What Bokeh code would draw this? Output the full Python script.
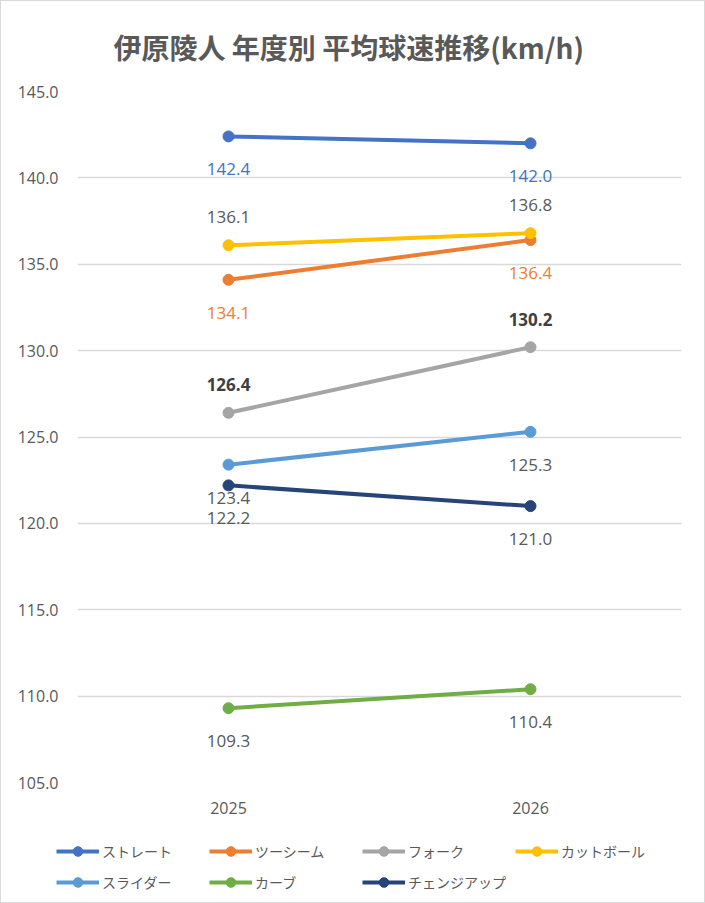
from bokeh.plotting import figure
from bokeh.layouts import column, row
from bokeh.models import (ColumnDataSource, Legend, LegendItem, FixedTicker,
                          NumeralTickFormatter, FactorRange, Range1d)
from bokeh.core.properties import value
from bokeh.embed import file_html
from bokeh.resources import INLINE

# ---- data ----
years = ["2025", "2026"]
pitch_names = ["ストレート", "ツーシーム", "フォーク", "カットボール", "スライダー", "カーブ", "チェンジアップ"]
straight = [142.4, 142.0]
two_seam = [134.1, 136.4]
fork = [126.4, 130.2]
cutball = [136.1, 136.8]
slider = [123.4, 125.3]
curve = [109.3, 110.4]
changeup = [122.2, 121.0]
y_ticks = [105, 110, 115, 120, 125, 130, 135, 140, 145]
title_text = "伊原陵人 年度別 平均球速推移(km/h)"

series_values = [straight, two_seam, fork, cutball, slider, curve, changeup]

# ---- styles ----
colors = ["#4472C4", "#ED7D31", "#A5A5A5", "#FFC000", "#5B9BD5", "#70AD47", "#264478"]
label_colors = ["#4472C4", "#ED7D31", "#404040", "#595959", "#595959", "#595959", "#595959"]
label_styles = ["normal", "normal", "bold", "normal", "normal", "normal", "normal"]
label_side = ["below", "below", "above", "above", "below", "below", "below"]
SIDE_OFFSET = {"below": 33, "above": -28}

W = 703
H_MAIN, H_LEG = 835, 66
p = figure(width=W, height=H_MAIN, x_range=FactorRange(factors=years, range_padding=0),
           y_range=Range1d(105, 145), output_backend="svg", toolbar_location=None,
           min_border_left=76, min_border_right=23, min_border_top=90, min_border_bottom=54)
p.outline_line_color = None
p.border_fill_color = "white"

p.title.text = title_text
p.title.align = "left"
p.title.vertical_align = "top"
p.title.offset = 36
p.title.standoff = 46
p.title.text_font = "Noto Sans CJK JP"
p.title.text_font_size = "28px"
p.title.text_font_style = "bold"
p.title.text_color = "#595959"

p.xgrid.grid_line_color = None
p.ygrid.grid_line_color = "#D9D9D9"
p.ygrid.grid_line_width = 1.3

p.yaxis.ticker = FixedTicker(ticks=y_ticks)
p.yaxis.formatter = NumeralTickFormatter(format="0.0")
for ax in (p.xaxis, p.yaxis):
    ax.axis_line_color = None
    ax.major_tick_line_color = None
    ax.minor_tick_line_color = None
    ax.major_tick_out = 0
    ax.major_tick_in = 0
    ax.minor_tick_out = 0
    ax.major_label_text_color = "#595959"
    ax.major_label_text_font = "Open Sans"
    ax.major_label_text_font_size = "16px"
p.yaxis.major_label_standoff = 19
p.xaxis.major_label_standoff = 19

# legend figure: same series, drawn outside its visible range so only the legend shows
pl = figure(width=W, height=H_LEG, x_range=FactorRange(factors=years, range_padding=0),
            y_range=Range1d(0, 1), output_backend="svg", toolbar_location=None,
            x_axis_location=None, y_axis_location=None,
            min_border_left=0, min_border_right=0, min_border_top=0, min_border_bottom=0)
pl.outline_line_color = None
pl.grid.grid_line_color = None
pl.border_fill_color = "white"

items = []
for name, vals, c, lc, ls, side in zip(pitch_names, series_values, colors, label_colors, label_styles, label_side):
    src = ColumnDataSource(dict(x=years, y=vals, lab=[f"{v:.1f}" for v in vals]))
    p.line("x", "y", source=src, line_color=c, line_width=4)
    p.scatter("x", "y", source=src, size=11, fill_color=c, line_color=c)
    p.text("x", "y", text="lab", source=src, text_align="center", text_baseline="middle",
           y_offset=SIDE_OFFSET[side], text_color=lc, text_font=value("Open Sans"),
           text_font_size="17px", text_font_style=ls)
    l1 = pl.line("x", "y", source=src, line_color=c, line_width=4)
    l2 = pl.scatter("x", "y", source=src, size=11, fill_color=c, line_color=c)
    items.append(LegendItem(label=name, renderers=[l1, l2]))

legend = Legend(items=items, orientation="horizontal", ncols=4, location=(55, 8),
                glyph_width=43, glyph_height=24, label_standoff=3, label_width=100,
                spacing=7, padding=0, margin=0, border_line_color=None,
                background_fill_alpha=0, label_text_font="Noto Sans CJK JP",
                label_text_font_size="14px", label_text_color="#595959")
pl.add_layout(legend, "center")

layout = column(p, row(pl, spacing=0), spacing=0, styles={"border": "1px solid #D9D9D9"})

open("out.html", "w").write(file_html(layout, INLINE))
